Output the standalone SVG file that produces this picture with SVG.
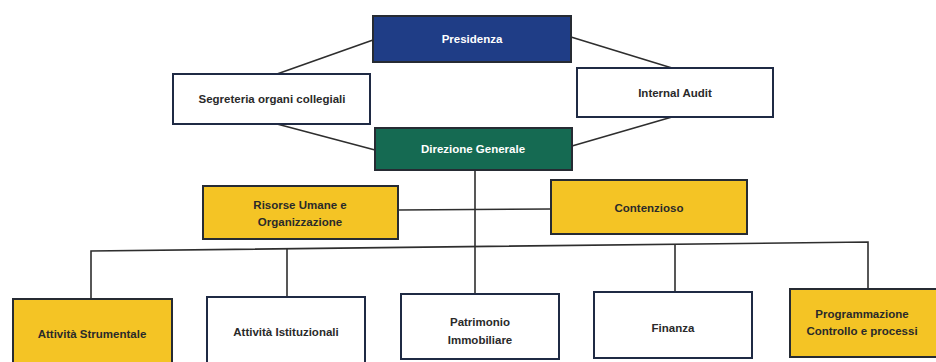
<svg xmlns="http://www.w3.org/2000/svg" width="936" height="362" viewBox="0 0 936 362">
<style>
.box{stroke:#262b33;stroke-width:2}
.blue{fill:#1f3d86}
.green{fill:#156a52}
.white{fill:#ffffff;stroke:#1f2a44}
.yellow{fill:#f4c425}
.t{font-family:"Liberation Sans",Arial,sans-serif;font-weight:bold;font-size:11.5px;text-anchor:middle;fill:#2a2a2a}
.tw{fill:#ffffff}
.c{stroke:#2e2e2e;stroke-width:1.6;fill:none}
</style>
<rect width="936" height="362" fill="#ffffff"/>
<g id="connectors">
<line class="c" x1="373" y1="40" x2="277" y2="74"/>
<line class="c" x1="277" y1="124" x2="375" y2="150"/>
<line class="c" x1="571" y1="37" x2="672" y2="68"/>
<line class="c" x1="672" y1="117" x2="572" y2="146"/>
<line class="c" x1="475" y1="170" x2="475" y2="293"/>
<line class="c" x1="398" y1="210" x2="551" y2="209"/>
<polyline class="c" points="91,299 91,251 868,242 868,289"/>
<line class="c" x1="287" y1="249" x2="287" y2="297"/>
<line class="c" x1="675" y1="244" x2="675" y2="291"/>
</g>
<g id="presidenza">
<rect class="box blue" x="373" y="16" width="198" height="46"/>
<text class="t tw" x="472" y="43">Presidenza</text>
</g>
<g id="segreteria">
<rect class="box white" x="173" y="74" width="197" height="50"/>
<text class="t" x="272" y="103">Segreteria organi collegiali</text>
</g>
<g id="internal-audit">
<rect class="box white" x="577" y="68" width="196" height="49"/>
<text class="t" x="675" y="97">Internal Audit</text>
</g>
<g id="direzione">
<rect class="box green" x="375" y="128" width="197" height="42"/>
<text class="t tw" x="473" y="153">Direzione Generale</text>
</g>
<g id="risorse-umane">
<rect class="box yellow" x="203" y="186" width="195" height="53"/>
<text class="t" x="300" y="209">Risorse Umane e</text>
<text class="t" x="300" y="226">Organizzazione</text>
</g>
<g id="contenzioso">
<rect class="box yellow" x="551" y="180" width="196" height="54"/>
<text class="t" x="649" y="212">Contenzioso</text>
</g>
<g id="attivita-strumentale">
<rect class="box yellow" x="13" y="299" width="159" height="70"/>
<text class="t" x="92" y="338">Attività Strumentale</text>
</g>
<g id="attivita-istituzionali">
<rect class="box white" x="207" y="297" width="158" height="70"/>
<text class="t" x="286" y="336">Attività Istituzionali</text>
</g>
<g id="patrimonio">
<rect class="box white" x="401" y="294" width="158" height="65"/>
<text class="t" x="480" y="326">Patrimonio</text>
<text class="t" x="480" y="344">Immobiliare</text>
</g>
<g id="finanza">
<rect class="box white" x="594" y="292" width="158" height="66"/>
<text class="t" x="673" y="332">Finanza</text>
</g>
<g id="programmazione">
<rect class="box yellow" x="790" y="289" width="150" height="68"/>
<text class="t" x="862" y="318">Programmazione</text>
<text class="t" x="862" y="335">Controllo e processi</text>
</g>
</svg>
